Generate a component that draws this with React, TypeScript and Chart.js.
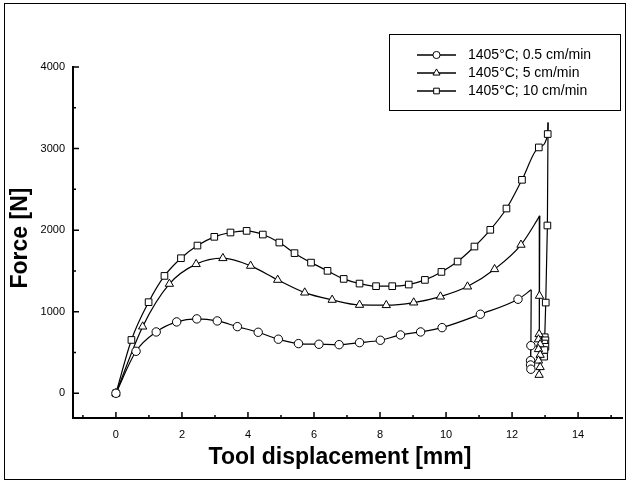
import React, { useEffect, useRef } from "react";
import { Chart, registerables } from "chart.js";

Chart.register(...registerables);

// ---------- data ----------
const seriesLabels = ["1405°C; 0.5 cm/min", "1405°C; 5 cm/min", "1405°C; 10 cm/min"];

// 0.5 cm/min (circles)
const circleX = [0, 0.61, 1.22, 1.84, 2.45, 3.07, 3.68, 4.31, 4.92, 5.53, 6.15, 6.76, 7.38, 8.01, 8.62, 9.23, 9.88, 11.04, 12.18];
const circleF = [0, 515, 752, 875, 912, 887, 817, 748, 663, 609, 601, 596, 621, 650, 715, 752, 805, 969, 1153];
const circlePeak = [12.58, 1268];
const circleDropX = [12.57, 12.56, 12.56, 12.57];
const circleDropF = [584, 400, 347, 295];

// 5 cm/min (triangles)
const triX = [0, 0.81, 1.62, 2.43, 3.24, 4.08, 4.9, 5.72, 6.55, 7.38, 8.19, 9.02, 9.83, 10.65, 11.47, 12.27];
const triF = [0, 817, 1341, 1583, 1656, 1562, 1390, 1234, 1145, 1083, 1080, 1112, 1185, 1308, 1521, 1820];
const triPeak = [12.84, 2175];
const triDropX = [12.83, 12.82, 12.8, 12.85, 12.8, 12.85, 12.8, 12.85, 12.82];
const triDropF = [1194, 724, 660, 600, 540, 470, 400, 320, 225];

// 10 cm/min (squares)
const sqX = [0, 0.47, 0.99, 1.47, 1.97, 2.47, 2.98, 3.47, 3.96, 4.45, 4.95, 5.41, 5.91, 6.41, 6.9, 7.38, 7.88, 8.37, 8.87, 9.36, 9.86, 10.35, 10.86, 11.34, 11.83, 12.3, 12.81, 13.08];
const sqF = [0, 654, 1117, 1439, 1656, 1811, 1918, 1971, 1991, 1946, 1848, 1718, 1602, 1501, 1402, 1345, 1313, 1313, 1333, 1390, 1488, 1615, 1799, 2004, 2265, 2617, 3014, 3178];
const sqPeak = [13.09, 3320];
const sqDropX = [13.07, 13.02, 12.99, 13.01, 12.98, 13.01, 12.98, 12.97];
const sqDropF = [2057, 1112, 687, 650, 610, 570, 530, 449];

// axes
const xMajorTicks = [0, 2, 4, 6, 8, 10, 12, 14];
const xMinorTicks = [-1, 1, 3, 5, 7, 9, 11, 13, 15];
const yMajorTicks = [0, 1000, 2000, 3000, 4000];
const yMinorTicks = [500, 1500, 2500, 3500];
const xTitle = "Tool displacement [mm]";
const yTitle = "Force [N]";

// ---------- helpers ----------
const pts = (xs: number[], ys: number[]) => xs.map((x, i) => ({ x, y: ys[i] }));
const pointStyles = ["circle", "triangle", "rect"];
const radii = [4.2, 4.8, 4.7];

function drawMarker(ctx: CanvasRenderingContext2D, style: string, x: number, y: number, r: number) {
  ctx.beginPath();
  if (style === "circle") {
    ctx.arc(x, y, r, 0, Math.PI * 2);
  } else if (style === "triangle") {
    let a = 0;
    ctx.moveTo(x + Math.sin(a) * r, y - Math.cos(a) * r);
    a += (2 * Math.PI) / 3;
    ctx.lineTo(x + Math.sin(a) * r, y - Math.cos(a) * r);
    a += (2 * Math.PI) / 3;
    ctx.lineTo(x + Math.sin(a) * r, y - Math.cos(a) * r);
    ctx.closePath();
  } else {
    const s = Math.SQRT1_2 * r;
    ctx.rect(x - s, y - s, 2 * s, 2 * s);
  }
  ctx.fillStyle = "#fff";
  ctx.fill();
  ctx.strokeStyle = "#000";
  ctx.lineWidth = 1;
  ctx.stroke();
}

const decorPlugin = {
  id: "decor",
  afterDraw(chart: any) {
    const { ctx, chartArea: a, scales } = chart;
    const x = scales.x;
    const y = scales.y;
    ctx.save();
    // inward tick marks
    ctx.strokeStyle = "#000";
    ctx.lineWidth = 1.5;
    ctx.beginPath();
    xMajorTicks.forEach((v) => {
      const p = x.getPixelForValue(v);
      ctx.moveTo(p, a.bottom);
      ctx.lineTo(p, a.bottom - 6);
    });
    xMinorTicks.forEach((v) => {
      const p = x.getPixelForValue(v);
      ctx.moveTo(p, a.bottom);
      ctx.lineTo(p, a.bottom - 3);
    });
    yMajorTicks.forEach((v) => {
      const p = y.getPixelForValue(v);
      ctx.moveTo(a.left, p);
      ctx.lineTo(a.left + 6, p);
    });
    yMinorTicks.forEach((v) => {
      const p = y.getPixelForValue(v);
      ctx.moveTo(a.left, p);
      ctx.lineTo(a.left + 3, p);
    });
    ctx.stroke();

    // axis titles
    ctx.fillStyle = "#000";
    ctx.font = "bold 23px Arial, 'Liberation Sans', sans-serif";
    ctx.textAlign = "center";
    ctx.textBaseline = "middle";
    ctx.fillText(xTitle, 340, 458);
    ctx.save();
    ctx.translate(21, 238);
    ctx.rotate(-Math.PI / 2);
    ctx.fillText(yTitle, 0, 0);
    ctx.restore();

    // legend box
    ctx.lineWidth = 1;
    ctx.strokeStyle = "#000";
    ctx.strokeRect(389.5, 34.5, 231, 76);
    ctx.font = "14px Arial, 'Liberation Sans', sans-serif";
    ctx.textAlign = "left";
    ctx.textBaseline = "middle";
    const rows = [55, 73, 91];
    seriesLabels.forEach((lab, i) => {
      const ry = rows[i];
      ctx.beginPath();
      ctx.lineWidth = 1.5;
      ctx.moveTo(417, ry);
      ctx.lineTo(456, ry);
      ctx.stroke();
      drawMarker(ctx, pointStyles[i], 436.5, ry, radii[i] * 0.85);
      ctx.fillStyle = "#000";
      ctx.fillText(lab, 468, ry + 0.5);
    });

    // outer frame
    ctx.lineWidth = 1;
    ctx.strokeRect(4.5, 3.5, 621, 476);
    ctx.restore();
  },
};

export default function App() {
  const ref = useRef<HTMLCanvasElement>(null);

  useEffect(() => {
    document.body.style.margin = "0";
    document.body.style.overflow = "hidden";
    const canvas = ref.current;
    if (!canvas) return;

    const base = {
      borderColor: "#000",
      borderWidth: 1.2,
      pointBackgroundColor: "#fff",
      pointBorderColor: "#000",
      pointBorderWidth: 1,
      fill: false,
    };

    const curve = (i: number, xs: number[], ys: number[], peak: number[]) => ({
      ...base,
      label: seriesLabels[i],
      data: [...pts(xs, ys), { x: peak[0], y: peak[1] }],
      pointStyle: pointStyles[i],
      pointRadius: (c: any) => (c.dataIndex === xs.length ? 0 : radii[i]),
      cubicInterpolationMode: "monotone",
    });
    const drop = (i: number, xs: number[], ys: number[], peak: number[]) => ({
      ...base,
      label: seriesLabels[i] + " drop",
      data: [{ x: peak[0], y: peak[1] }, ...pts(xs, ys)],
      pointStyle: pointStyles[i],
      pointRadius: (c: any) => (c.dataIndex === 0 ? 0 : radii[i]),
      tension: 0,
    });

    const chart = new Chart(canvas, {
      type: "line",
      data: {
        datasets: [
          curve(0, circleX, circleF, circlePeak),
          drop(0, circleDropX, circleDropF, circlePeak),
          curve(1, triX, triF, triPeak),
          drop(1, triDropX, triDropF, triPeak),
          curve(2, sqX, sqF, sqPeak),
          drop(2, sqDropX, sqDropF, sqPeak),
        ] as any,
      },
      options: {
        responsive: false,
        animation: false,
        events: [],
        layout: { padding: { top: 67, right: 7, left: 0, bottom: 0 } },
        plugins: { legend: { display: false }, tooltip: { enabled: false }, title: { display: false } },
        scales: {
          x: {
            type: "linear",
            min: -1.3,
            max: 15.33,
            grid: { display: false, drawTicks: false },
            border: { display: true, color: "#000", width: 2 },
            afterBuildTicks: (s: any) => {
              s.ticks = xMajorTicks.map((v) => ({ value: v }));
            },
            afterFit: (s: any) => {
              s.height = 65;
            },
            ticks: {
              color: "#000",
              font: { family: "Arial, 'Liberation Sans', sans-serif", size: 11 },
              padding: 10,
              maxRotation: 0,
              autoSkip: false,
              callback: (v: any) => String(v),
            },
          },
          y: {
            type: "linear",
            min: -303,
            max: 4000,
            grid: { display: false, drawTicks: false },
            border: { display: true, color: "#000", width: 2 },
            afterBuildTicks: (s: any) => {
              s.ticks = yMajorTicks.map((v) => ({ value: v }));
            },
            afterFit: (s: any) => {
              s.width = 73;
            },
            ticks: {
              color: "#000",
              font: { family: "Arial, 'Liberation Sans', sans-serif", size: 11 },
              padding: 8,
              autoSkip: false,
              callback: (v: any) => String(v),
            },
          },
        },
      },
      plugins: [decorPlugin],
    });

    return () => chart.destroy();
  }, []);

  return <canvas ref={ref} width={629} height={483} style={{ display: "block" }} />;
}
